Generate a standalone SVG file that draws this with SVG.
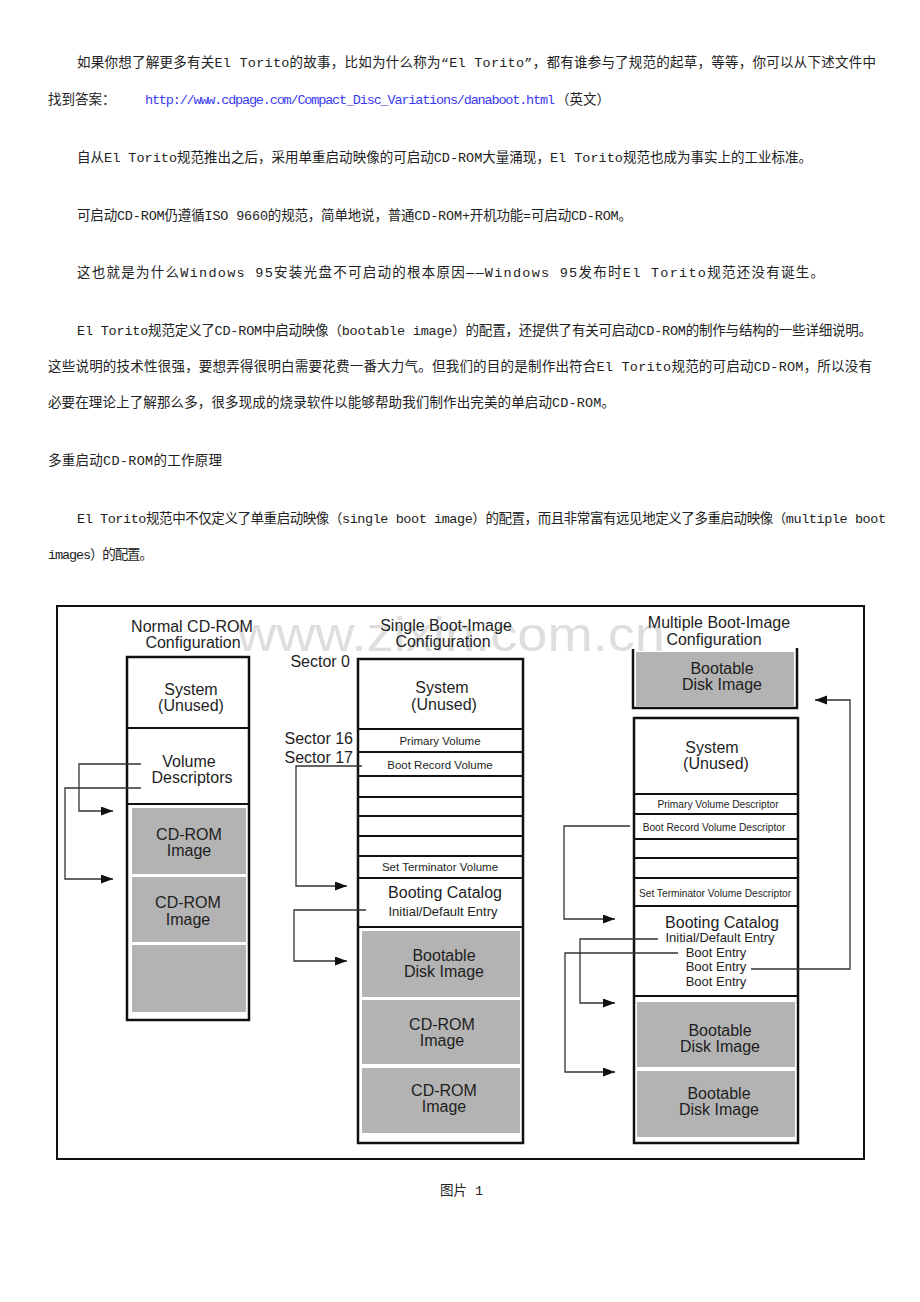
<svg xmlns="http://www.w3.org/2000/svg" width="920" height="1302" viewBox="0 0 920 1302">
<style>
.p{font-family:"Liberation Mono","Noto Sans CJK SC",monospace;font-size:13.5px;fill:#222}
.url{fill:#3a3af0}
.d{font-family:"Liberation Sans",Arial,sans-serif;fill:#1e1e1e;text-anchor:middle}
.t16{font-size:16px}
.t13{font-size:13px}
.t11{font-size:11.5px}
.t10{font-size:10.2px}
.box{fill:#fff;stroke:#111;stroke-width:2.5}
.div{stroke:#111;stroke-width:2}
.g{fill:#b3b3b3}
.wm{font-family:"Liberation Sans",Arial,sans-serif;font-size:48px;fill:#dedede}
.c{fill:none;stroke:#333;stroke-width:1.3}
</style>
<defs>
<marker id="ah" markerUnits="userSpaceOnUse" markerWidth="14" markerHeight="10" refX="12" refY="4.5" orient="auto">
<path d="M0,0 L12,4.5 L0,9 z" fill="#111"/>
</marker>
</defs>
<rect width="920" height="1302" fill="#fff"/>
<g id="text">
<text class="p" x="77" y="67" textLength="799" lengthAdjust="spacing">如果你想了解更多有关El Torito的故事，比如为什么称为“El Torito”，都有谁参与了规范的起草，等等，你可以从下述文件中</text>
<text class="p" x="48" y="104">找到答案：</text>
<text class="p url" x="145" y="104" textLength="410" lengthAdjust="spacing">http://www.cdpage.com/Compact_Disc_Variations/danaboot.html</text>
<text class="p" x="556" y="104">（英文）</text>
<text class="p" x="77" y="162" textLength="735" lengthAdjust="spacing">自从El Torito规范推出之后，采用单重启动映像的可启动CD-ROM大量涌现，El Torito规范也成为事实上的工业标准。</text>
<text class="p" x="77" y="220" textLength="555" lengthAdjust="spacing">可启动CD-ROM仍遵循ISO 9660的规范，简单地说，普通CD-ROM+开机功能=可启动CD-ROM。</text>
<text class="p" x="77" y="277" textLength="747" lengthAdjust="spacing">这也就是为什么Windows 95安装光盘不可启动的根本原因——Windows 95发布时El Torito规范还没有诞生。</text>
<text class="p" x="77" y="335" textLength="795" lengthAdjust="spacing">El Torito规范定义了CD-ROM中启动映像（bootable image）的配置，还提供了有关可启动CD-ROM的制作与结构的一些详细说明。</text>
<text class="p" x="48" y="371" textLength="824" lengthAdjust="spacing">这些说明的技术性很强，要想弄得很明白需要花费一番大力气。但我们的目的是制作出符合El Torito规范的可启动CD-ROM，所以没有</text>
<text class="p" x="48" y="407" textLength="567" lengthAdjust="spacing">必要在理论上了解那么多，很多现成的烧录软件以能够帮助我们制作出完美的单启动CD-ROM。</text>
<text class="p" x="48" y="465" textLength="174" lengthAdjust="spacing">多重启动CD-ROM的工作原理</text>
<text class="p" x="77" y="523" textLength="809" lengthAdjust="spacing">El Torito规范中不仅定义了单重启动映像（single boot image）的配置，而且非常富有远见地定义了多重启动映像（multiple boot</text>
<text class="p" x="48" y="559" textLength="105" lengthAdjust="spacing">images）的配置。</text>
<text class="p" x="440" y="1195">图片 1</text>
</g>
<g id="frame">
<rect x="57" y="606" width="807" height="553" fill="#fff" stroke="#111" stroke-width="2"/>
<text class="wm" x="237" y="651" textLength="428" lengthAdjust="spacingAndGlyphs">www.zixin.com.cn</text>
</g>
<g id="normal">
<text class="d t16" x="192" y="632">Normal CD-ROM</text>
<text class="d t16" x="193" y="648">Configuration</text>
<rect class="box" x="127" y="657" width="122" height="363"/>
<line class="div" x1="127" y1="728" x2="249" y2="728"/>
<line class="div" x1="127" y1="804" x2="249" y2="804" stroke-width="3"/>
<rect class="g" x="132" y="808" width="114" height="66"/>
<rect class="g" x="132" y="877" width="114" height="65"/>
<rect class="g" x="132" y="945" width="114" height="67"/>
<text class="d t16" x="191" y="695">System</text>
<text class="d t16" x="191" y="711">(Unused)</text>
<text class="d t16" x="189" y="767">Volume</text>
<text class="d t16" x="192" y="783">Descriptors</text>
<text class="d t16" x="189" y="840">CD-ROM</text>
<text class="d t16" x="189" y="856">Image</text>
<text class="d t16" x="188" y="908">CD-ROM</text>
<text class="d t16" x="188" y="925">Image</text>
</g>
<g id="single">
<text class="d t16" x="446" y="631">Single Boot-Image</text>
<text class="d t16" x="443" y="647">Configuration</text>
<text class="d t16" x="350" y="667" style="text-anchor:end">Sector 0</text>
<text class="d t16" x="353" y="744" style="text-anchor:end">Sector 16</text>
<text class="d t16" x="353" y="763" style="text-anchor:end">Sector 17</text>
<rect class="box" x="358" y="659" width="165" height="484"/>
<line class="div" x1="358" y1="729" x2="523" y2="729"/>
<line class="div" x1="358" y1="752" x2="523" y2="752"/>
<line class="div" x1="358" y1="776" x2="523" y2="776"/>
<line class="div" x1="358" y1="797" x2="523" y2="797"/>
<line class="div" x1="358" y1="816" x2="523" y2="816"/>
<line class="div" x1="358" y1="836" x2="523" y2="836"/>
<line class="div" x1="358" y1="856" x2="523" y2="856"/>
<line class="div" x1="358" y1="878" x2="523" y2="878"/>
<line class="div" x1="358" y1="927" x2="523" y2="927" stroke-width="2.5"/>
<rect class="g" x="362" y="931" width="158" height="66"/>
<rect class="g" x="362" y="1000" width="158" height="64"/>
<rect class="g" x="362" y="1068" width="158" height="65"/>
<text class="d t16" x="442" y="693">System</text>
<text class="d t16" x="444" y="710">(Unused)</text>
<text class="d t11" x="440" y="745">Primary Volume</text>
<text class="d t11" x="440" y="769">Boot Record Volume</text>
<text class="d t11" x="440" y="871">Set Terminator Volume</text>
<text class="d t16" x="445" y="898">Booting Catalog</text>
<text class="d t13" x="443" y="916">Initial/Default Entry</text>
<text class="d t16" x="444" y="961">Bootable</text>
<text class="d t16" x="444" y="977">Disk Image</text>
<text class="d t16" x="442" y="1030">CD-ROM</text>
<text class="d t16" x="442" y="1046">Image</text>
<text class="d t16" x="444" y="1096">CD-ROM</text>
<text class="d t16" x="444" y="1112">Image</text>
</g>
<g id="multiple">
<text class="d t16" x="719" y="628">Multiple Boot-Image</text>
<text class="d t16" x="714" y="645">Configuration</text>
<rect class="g" x="636" y="652" width="158" height="54"/>
<path d="M633,649 V708 H797 V648" fill="none" stroke="#111" stroke-width="2.5"/>
<text class="d t16" x="722" y="674">Bootable</text>
<text class="d t16" x="722" y="690">Disk Image</text>
<rect class="box" x="634" y="718" width="164" height="425"/>
<line class="div" x1="634" y1="794" x2="798" y2="794"/>
<line class="div" x1="634" y1="814" x2="798" y2="814"/>
<line class="div" x1="634" y1="839" x2="798" y2="839"/>
<line class="div" x1="634" y1="858" x2="798" y2="858"/>
<line class="div" x1="634" y1="878" x2="798" y2="878"/>
<line class="div" x1="634" y1="906" x2="798" y2="906"/>
<line class="div" x1="634" y1="996" x2="798" y2="996" stroke-width="2.5"/>
<rect class="g" x="637" y="1002" width="158" height="65"/>
<rect class="g" x="637" y="1071" width="158" height="66"/>
<text class="d t16" x="712" y="753">System</text>
<text class="d t16" x="716" y="769">(Unused)</text>
<text class="d t10" x="718" y="808">Primary Volume Descriptor</text>
<text class="d t10" x="714" y="831">Boot Record Volume Descriptor</text>
<text class="d t10" x="715" y="897">Set Terminator Volume Descriptor</text>
<text class="d t16" x="722" y="928">Booting Catalog</text>
<text class="d t13" x="720" y="942">Initial/Default Entry</text>
<text class="d t13" x="716" y="957">Boot Entry</text>
<text class="d t13" x="716" y="971">Boot Entry</text>
<text class="d t13" x="716" y="986">Boot Entry</text>
<text class="d t16" x="720" y="1036">Bootable</text>
<text class="d t16" x="720" y="1052">Disk Image</text>
<text class="d t16" x="719" y="1099">Bootable</text>
<text class="d t16" x="719" y="1115">Disk Image</text>
</g>
<g id="connectors">
<polyline class="c" points="141,764 79,764 79,811 113,811" marker-end="url(#ah)"/>
<polyline class="c" points="141,788 65,788 65,879 113,879" marker-end="url(#ah)"/>
<polyline class="c" points="362,766 296,766 296,886 347,886" marker-end="url(#ah)"/>
<polyline class="c" points="366,910 294,910 294,961 347,961" marker-end="url(#ah)"/>
<polyline class="c" points="630,826 564,826 564,919 615,919" marker-end="url(#ah)"/>
<polyline class="c" points="658,939 580,939 580,1003 615,1003" marker-end="url(#ah)"/>
<polyline class="c" points="678,953 565,953 565,1072 615,1072" marker-end="url(#ah)"/>
<polyline class="c" points="751,969 850,969 850,700 815,700" marker-end="url(#ah)"/>
</g>
</svg>
